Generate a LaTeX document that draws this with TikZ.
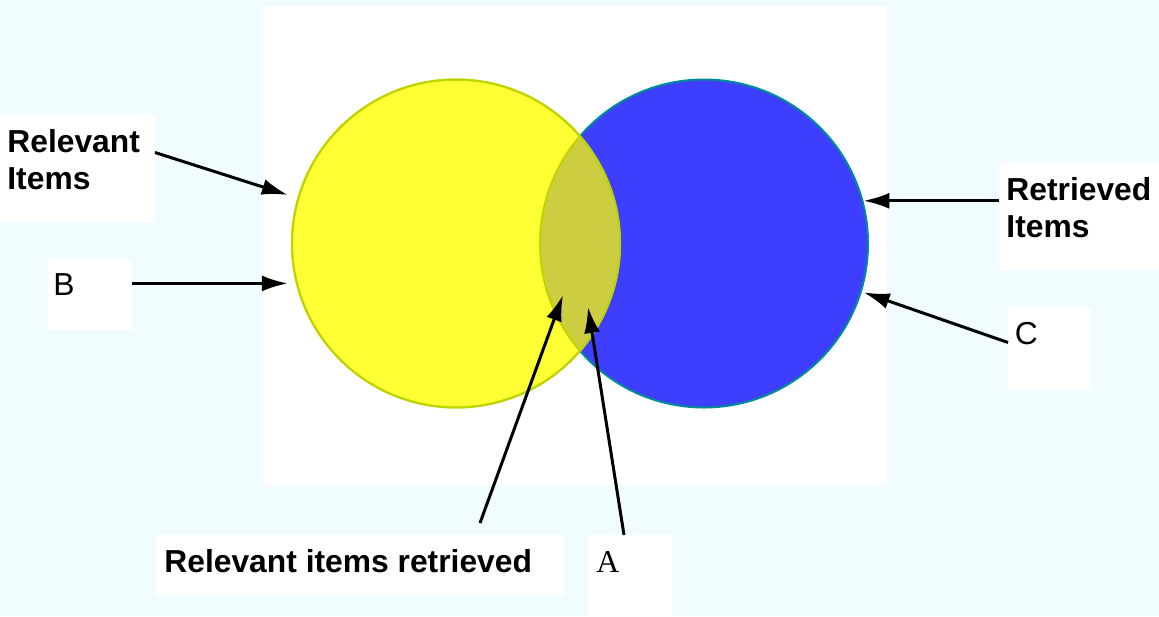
\documentclass[tikz,border=0pt]{standalone}
\usepackage{fontspec}
\setmainfont{Liberation Serif}
\setsansfont{Liberation Sans}
\usetikzlibrary{positioning}
\usetikzlibrary{arrows.meta}

\definecolor{skyback}{RGB}{240,252,255}
\definecolor{relyellow}{RGB}{255,255,51}
\definecolor{reledge}{RGB}{190,212,0}
\definecolor{retblue}{RGB}{62,62,255}
\definecolor{retedge}{RGB}{0,140,150}
\definecolor{lensolive}{RGB}{205,205,66}

\begin{document}
\begin{tikzpicture}[x=0.5pt,y=-0.5pt,
 sheet/.style={fill=white,inner sep=0pt,outer sep=0pt},
 tag/.style={font=\sffamily\fontsize{15.9}{18.5}\selectfont,inner sep=0pt,anchor=base west},
 headtag/.style={tag,font=\sffamily\bfseries\fontsize{15.9}{18.5}\selectfont},
 pointer/.style={line width=1.5pt,-{Latex[length=13pt,width=8pt]}},
 setdisc/.style={circle,minimum size=164pt,inner sep=0pt,line width=1pt}]

  \fill[skyback] (0,0) rectangle (1159,616);
  \useasboundingbox (0,0) rectangle (1159,616);
  \fill[white] (263,6) rectangle (887,485);

  % the two sets
  \node[setdisc,draw=retedge,fill=retblue] (retset) at (704,243.5) {};
  \node[setdisc,draw=reledge,fill=relyellow] (relset) at (456,243.5) {};
  \begin{scope}
   \clip (relset.center) circle[radius=82pt];
   \fill[lensolive] (retset.center) circle[radius=82pt];
   \draw[reledge,line width=1pt] (retset.center) circle[radius=82pt];
  \end{scope}
  \draw[reledge,line width=1pt] (relset.center) circle[radius=82pt];

  % label boxes
  \node[sheet,minimum width=77.5pt,minimum height=53.5pt] (relbox) at (77.5,168.5) {};
  \node[sheet,minimum width=42pt,minimum height=35.5pt] (bbox) at (90,294.5) {};
  \node[sheet,minimum width=80pt,minimum height=53.5pt] (retbox) at (1079,216.5) {};
  \node[sheet,minimum width=41.5pt,minimum height=41.5pt] (cbox) at (1049.5,348.5) {};
  \node[sheet,minimum width=204pt,minimum height=30pt] (bothbox) at (360,565) {};
  \node[sheet,minimum width=42pt,minimum height=40.5pt] (abox) at (630,575.5) {};

  \node[headtag,align=left,anchor=north west] (reltext) at (7,129) {Relevant\\Items};
  \node[tag] (btext) at (53,295) {B};
  \node[headtag,align=left,anchor=north west] (rettext) at (1006,177) {Retrieved\\Items};
  \node[tag] (ctext) at (1014.5,344) {C};
  \node[headtag] (bothtext) at (164,572) {Relevant items retrieved};
  \node[tag,font=\rmfamily\fontsize{15.9}{18.5}\selectfont] (atext) at (596,572) {A};

  % pointers
  \coordinate (hitboth) at (563,295);
  \coordinate (hita) at (588,307);
  \draw[pointer,shorten >=5pt] ([yshift=8pt]relbox.east) -- (relset.164.5);
  \draw[pointer,shorten >=4pt] (bbox.east|-relset.194) -- (relset.194);
  \draw[pointer] (retbox.west|-retset.15.5) -- (retset.15.5);
  \draw[pointer,shorten >=1pt] ([yshift=3pt]cbox.west) -- (retset.-17.7);
  \draw[pointer] ([shift={(60pt,6pt)}]bothbox.north) -- (hitboth);
  \draw[pointer] ([xshift=-3pt]abox.north) -- (hita);

\end{tikzpicture}
\end{document}
